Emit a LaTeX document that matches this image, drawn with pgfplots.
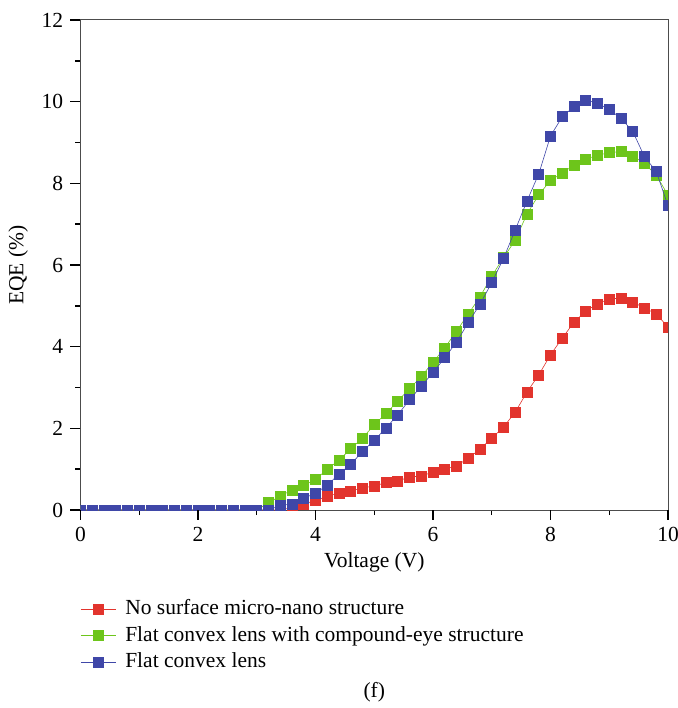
\documentclass[border=0pt]{standalone}
\usepackage{fontspec}
\setmainfont{Liberation Serif}
\usepackage{pgfplots}
\usetikzlibrary{calc}
\pgfplotsset{compat=1.18}
\definecolor{cred}{HTML}{E2342D}
\definecolor{cgreen}{HTML}{6DC51B}
\definecolor{cblue}{HTML}{3F47A8}
\newcommand{\fs}{\fontsize{21.5}{25}\selectfont}
\begin{document}
\fs
\begin{tikzpicture}
\begin{axis}[
  scale only axis,
  width=587.5pt, height=490pt,
  xmin=0, xmax=10, ymin=0, ymax=12,
  xtick={0,2,4,6,8,10}, ytick={0,2,4,6,8,10,12},
  minor xtick={1,3,5,7,9}, minor ytick={1,3,5,7,9,11},
  xtick pos=left, ytick pos=left,
  tick align=outside,
  major tick length=10pt, minor tick length=5pt,
  major tick style={draw=none},
  minor tick style={draw=black, line width=1.4pt},
  axis line style={black!70, line width=1pt},
  /pgf/number format/assume math mode=true,
  ticklabel style={font=\fs, fill=none},
  label style={font=\fs},
  xlabel={Voltage (V)},
  ylabel={EQE (\%)},
  every axis x label/.style={at={(axis description cs:0.5,-0.106)},anchor=center},
  every axis y label/.style={at={(axis description cs:-0.106,0.5)},rotate=90,anchor=center},
  legend style={at={(axis description cs:0,-0.176)},anchor=north west,draw=none,fill=none,
    font=\fs, row sep=1pt, inner sep=0pt,
    nodes={inner sep=2pt, text depth=0.25em, text height=0.75em}},
  legend cell align=left,
  legend image code/.code={\draw[mark repeat=2,mark phase=2,#1] plot coordinates {(0pt,0pt) (17.5pt,0pt) (35pt,0pt)}; \path (42pt,0pt);},
  clip=true, clip marker paths=true,
]
\addplot[cred, line width=0.6pt, mark=square*, mark size=5pt, mark options={solid, fill=cred, draw=cred}] coordinates {
(0.0,0) (0.2,0) (0.4,0) (0.6,0) (0.8,0) (1.0,0) (1.2,0) (1.4,0) (1.6,0) (1.8,0)
(2.0,0) (2.2,0) (2.4,0) (2.6,0) (2.8,0) (3.0,0) (3.2,0) (3.4,0) (3.6,0.06) (3.8,0.15)
(4.0,0.23) (4.2,0.34) (4.4,0.41) (4.6,0.47) (4.8,0.54) (5.0,0.59) (5.2,0.67) (5.4,0.71) (5.6,0.81) (5.8,0.83)
(6.0,0.93) (6.2,1.00) (6.4,1.08) (6.6,1.27) (6.8,1.49) (7.0,1.76) (7.2,2.03) (7.4,2.40) (7.6,2.89) (7.8,3.31)
(8.0,3.80) (8.2,4.21) (8.4,4.60) (8.6,4.87) (8.8,5.05) (9.0,5.17) (9.2,5.19) (9.4,5.09) (9.6,4.95) (9.8,4.80)
(10.0,4.48)
};
\addlegendentry{No surface micro-nano structure}
\addplot[cgreen, line width=0.6pt, mark=square*, mark size=5pt, mark options={solid, fill=cgreen, draw=cgreen}] coordinates {
(0.0,0) (0.2,0) (0.4,0) (0.6,0) (0.8,0) (1.0,0) (1.2,0) (1.4,0) (1.6,0) (1.8,0)
(2.0,0) (2.2,0) (2.4,0) (2.6,0) (2.8,0) (3.0,0) (3.2,0.18) (3.4,0.34) (3.6,0.49) (3.8,0.60)
(4.0,0.75) (4.2,1.00) (4.4,1.22) (4.6,1.50) (4.8,1.76) (5.0,2.09) (5.2,2.36) (5.4,2.67) (5.6,2.97) (5.8,3.27)
(6.0,3.62) (6.2,3.97) (6.4,4.38) (6.6,4.80) (6.8,5.22) (7.0,5.73) (7.2,6.18) (7.4,6.61) (7.6,7.25) (7.8,7.72)
(8.0,8.07) (8.2,8.25) (8.4,8.45) (8.6,8.59) (8.8,8.69) (9.0,8.75) (9.2,8.78) (9.4,8.67) (9.6,8.49) (9.8,8.20)
(10.0,7.71)
};
\addlegendentry{Flat convex lens with compound-eye structure}
\addplot[cblue, line width=0.6pt, mark=square*, mark size=5pt, mark options={solid, fill=cblue, draw=cblue}] coordinates {
(0.0,0) (0.2,0) (0.4,0) (0.6,0) (0.8,0) (1.0,0) (1.2,0) (1.4,0) (1.6,0) (1.8,0)
(2.0,0) (2.2,0) (2.4,0) (2.6,0) (2.8,0) (3.0,0) (3.2,0) (3.4,0.11) (3.6,0.15) (3.8,0.29)
(4.0,0.41) (4.2,0.61) (4.4,0.88) (4.6,1.12) (4.8,1.43) (5.0,1.71) (5.2,2.01) (5.4,2.33) (5.6,2.70) (5.8,3.03)
(6.0,3.37) (6.2,3.73) (6.4,4.11) (6.6,4.59) (6.8,5.04) (7.0,5.57) (7.2,6.16) (7.4,6.86) (7.6,7.57) (7.8,8.23)
(8.0,9.16) (8.2,9.63) (8.4,9.88) (8.6,10.04) (8.8,9.96) (9.0,9.81) (9.2,9.59) (9.4,9.27) (9.6,8.65) (9.8,8.29)
(10.0,7.45)
};
\addlegendentry{Flat convex lens}
\coordinate (o) at (rel axis cs:0,0);
\coordinate (xe) at (rel axis cs:1,0);
\coordinate (ye) at (rel axis cs:0,1);
\coordinate (bl) at (rel axis cs:-0.137,-0.404);
\coordinate (tr) at (rel axis cs:1.0153,1.0408);
\coordinate (fpos) at (rel axis cs:0.5,-0.371);
\end{axis}
\foreach \k in {0,1,...,6} {
  \draw[black, line width=1.4pt] ($(o)!\k/6!(ye)$) -- ++(-10pt,0pt);
}
\foreach \k in {0,1,...,5} {
  \draw[black, line width=1.4pt] ($(o)!\k/5!(xe)$) -- ++(0pt,-10pt);
}
\node[font=\fs] at (fpos) {(f)};
\pgfresetboundingbox
\path[use as bounding box] (bl) rectangle (tr);
\end{tikzpicture}
\end{document}
